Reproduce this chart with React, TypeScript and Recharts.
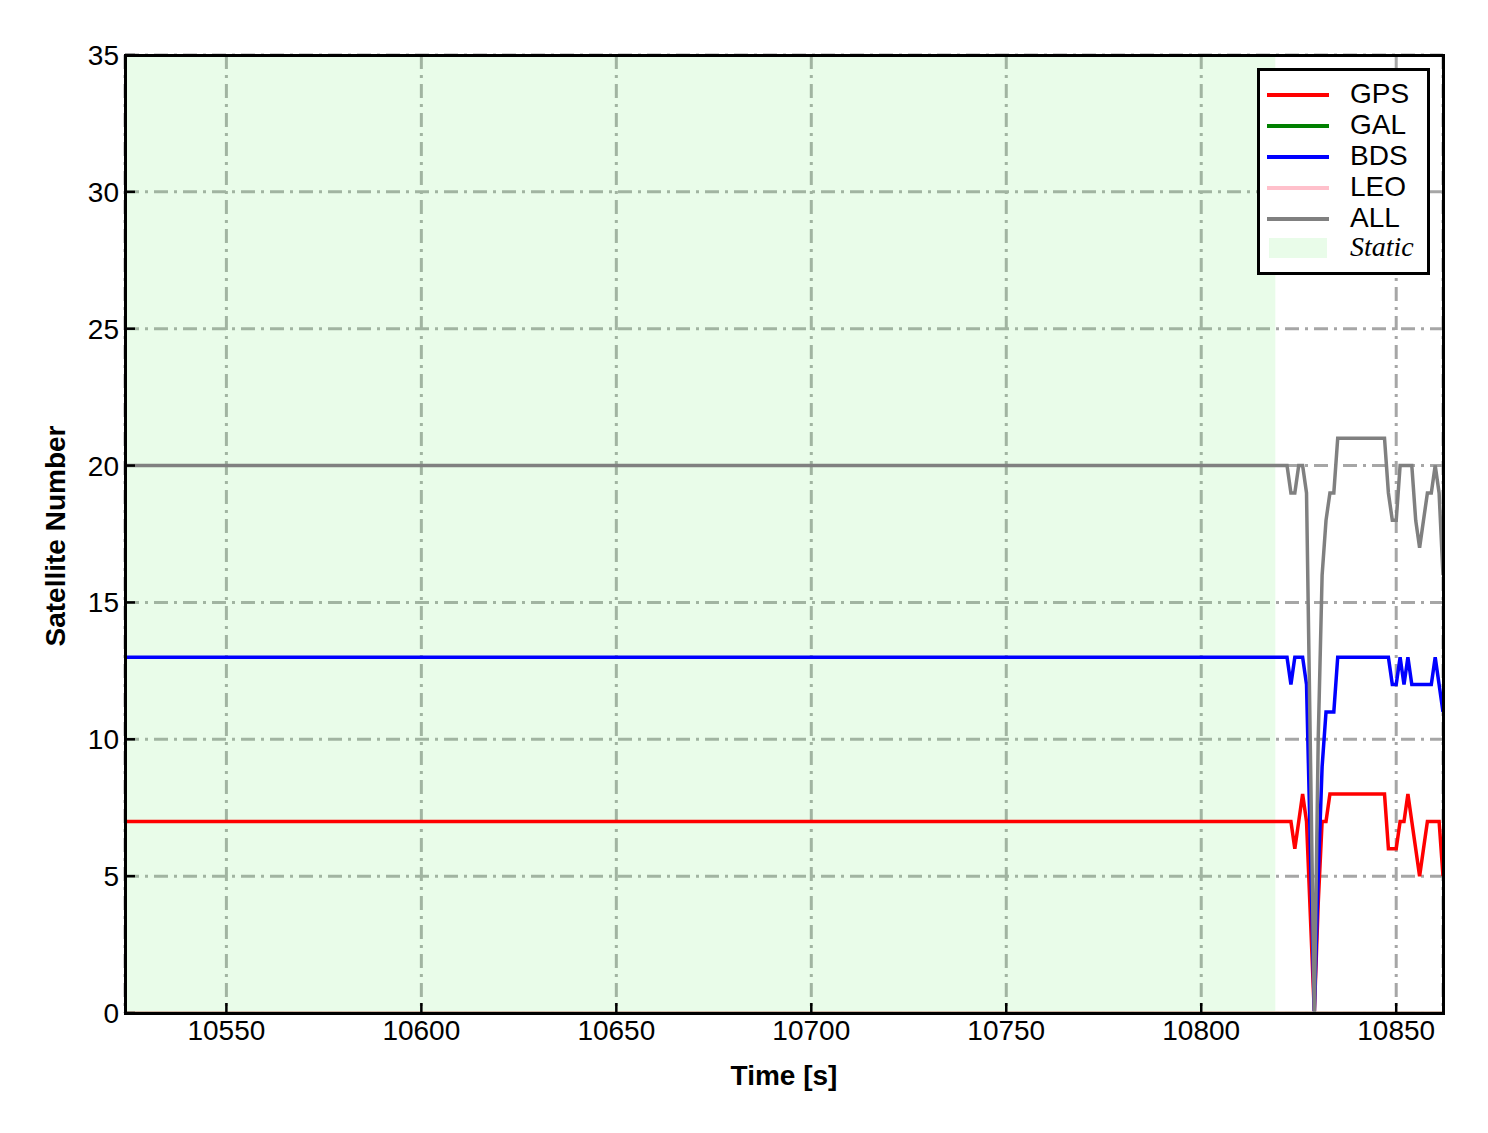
import React from 'react';
import { LineChart, Line, XAxis, YAxis, CartesianGrid, ReferenceArea } from 'recharts';

const TIME = [10524, 10821, 10822, 10823, 10824, 10825, 10826, 10827, 10829, 10830, 10831, 10832, 10833, 10834, 10835, 10847, 10848, 10849, 10850, 10851, 10852, 10853, 10854, 10855, 10856, 10857, 10858, 10859, 10860, 10861, 10862];
const GPS = [7, 7, 7, 7, 6, 7, 8, 7, 0, 4, 7, 7, 8, 8, 8, 8, 6, 6, 6, 7, 7, 8, 7, 6, 5, 6, 7, 7, 7, 7, 5];
const GAL = [0, 0, 0, 0, 0, 0, 0, 0, 0, 0, 0, 0, 0, 0, 0, 0, 0, 0, 0, 0, 0, 0, 0, 0, 0, 0, 0, 0, 0, 0, 0];
const BDS = [13, 13, 13, 12, 13, 13, 13, 12, 0, 5, 9, 11, 11, 11, 13, 13, 13, 12, 12, 13, 12, 13, 12, 12, 12, 12, 12, 12, 13, 12, 11];
const LEO = [0, 0, 0, 0, 0, 0, 0, 0, 0, 0, 0, 0, 0, 0, 0, 0, 0, 0, 0, 0, 0, 0, 0, 0, 0, 0, 0, 0, 0, 0, 0];
const ALL = [20, 20, 20, 19, 19, 20, 20, 19, 0, 10, 16, 18, 19, 19, 21, 21, 19, 18, 18, 20, 20, 20, 20, 18, 17, 18, 19, 19, 20, 19, 16];

const X_TICKS = [10550, 10600, 10650, 10700, 10750, 10800, 10850];
const Y_TICKS = [0, 5, 10, 15, 20, 25, 30, 35];
const X_DOMAIN: [number, number] = [10524, 10862];
const Y_DOMAIN: [number, number] = [0, 35];
const STATIC_END = 10819;

const SERIES = [
  { key: 'GPS', color: '#ff0000', values: GPS },
  { key: 'GAL', color: '#008000', values: GAL },
  { key: 'BDS', color: '#0000ff', values: BDS },
  { key: 'LEO', color: '#ffc0cb', values: LEO },
  { key: 'ALL', color: '#808080', values: ALL },
];

const data = TIME.map((t, i) => {
  const row: any = { time: t };
  SERIES.forEach((s) => { row[s.key] = s.values[i]; });
  return row;
});

const FONT = '"Liberation Sans", Arial, sans-serif';

const XTick = (props: any) => {
  const { x, y, payload } = props;
  return (
    <g>
      <line x1={x} y1={y} x2={x} y2={y - 10} stroke="#000" strokeWidth={2.5} />
      <text x={x} y={y + 27} textAnchor="middle" fontFamily={FONT} fontSize={28} fill="#000">{payload.value}</text>
    </g>
  );
};

const YTick = (props: any) => {
  const { x, y, payload } = props;
  return (
    <g>
      <line x1={x} y1={y} x2={x + 10} y2={y} stroke="#000" strokeWidth={2.5} />
      <text x={x - 6} y={y + 10} textAnchor="end" fontFamily={FONT} fontSize={28} fill="#000">{payload.value}</text>
    </g>
  );
};

const LegendBox = () => (
  <div style={{ position: 'absolute', left: 1257, top: 68, width: 167, height: 201, border: '3px solid #000', background: '#fff', boxSizing: 'content-box' }}>
    {SERIES.map((s, i) => (
      <div key={s.key} style={{ position: 'absolute', left: 0, top: 11 + i * 31, height: 30, width: 167 }}>
        <div style={{ position: 'absolute', left: 7, top: 11, width: 62, height: 4, background: s.color }} />
        <div style={{ position: 'absolute', left: 90, top: -4, fontFamily: FONT, fontSize: 28, lineHeight: '32px', color: '#000' }}>{s.key}</div>
      </div>
    ))}
    <div style={{ position: 'absolute', left: 9, top: 167, width: 58, height: 20, background: 'rgba(144,238,144,0.2)' }} />
    <div style={{ position: 'absolute', left: 90, top: 160, fontFamily: '"Liberation Serif", "Times New Roman", serif', fontStyle: 'italic', fontSize: 28, lineHeight: '32px', color: '#000' }}>Static</div>
  </div>
);

export default function App() {
  return (
    <div style={{ position: 'absolute', left: 0, top: 0, width: 1488, height: 1133, background: '#fff' }}>
      <LineChart width={1488} height={1133} data={data} margin={{ top: 55, right: 45, left: 0, bottom: 0 }}>
        <CartesianGrid stroke="#a6a6a6" strokeWidth={3} strokeDasharray="14 6 3 6" />
        <ReferenceArea x1={X_DOMAIN[0]} x2={STATIC_END} y1={0} y2={35} fill="rgb(144,238,144)" fillOpacity={0.2} stroke="none" ifOverflow="hidden" />
        <XAxis
          dataKey="time"
          type="number"
          domain={X_DOMAIN}
          ticks={X_TICKS}
          allowDataOverflow
          height={120}
          tickSize={0}
          tickMargin={0}
          axisLine={false}
          tickLine={false}
          tick={<XTick />}
          interval={0}
          label={(p: any) => {
            const vb = p.viewBox || {};
            return (
              <text x={(vb.x ?? 125) + (vb.width ?? 1318) / 2} y={1085} textAnchor="middle" fontFamily={FONT} fontWeight="bold" fontSize={28} fill="#000">Time [s]</text>
            );
          }}
        />
        <YAxis
          type="number"
          domain={Y_DOMAIN}
          ticks={Y_TICKS}
          allowDataOverflow
          width={125}
          tickSize={0}
          tickMargin={0}
          axisLine={false}
          tickLine={false}
          tick={<YTick />}
          interval={0}
          label={() => (
            <text x={65} y={536} transform="rotate(-90 65 536)" textAnchor="middle" fontFamily={FONT} fontWeight="bold" fontSize={28} fill="#000">Satellite Number</text>
          )}
        />
        {SERIES.map((s) => (
          <Line key={s.key} type="linear" dataKey={s.key} stroke={s.color} strokeWidth={3.5} dot={false} activeDot={false} isAnimationActive={false} />
        ))}
      </LineChart>
      <div style={{ position: 'absolute', left: 123.5, top: 53.5, width: 1321, height: 961, border: '3px solid #000', boxSizing: 'border-box', pointerEvents: 'none' }} />
      <LegendBox />
    </div>
  );
}
